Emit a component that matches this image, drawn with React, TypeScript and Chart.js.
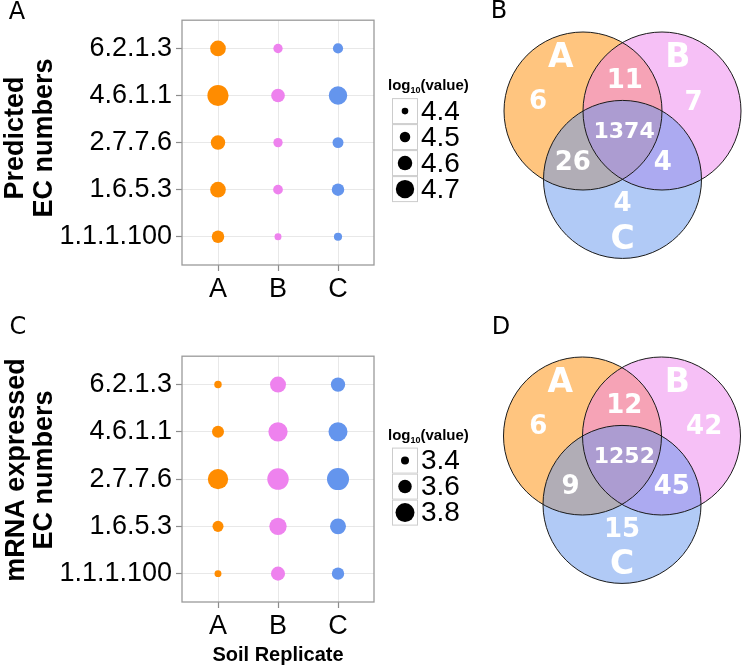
import React, { useEffect, useRef } from 'react';
import { Chart, registerables } from 'chart.js';

Chart.register(...registerables);

// ---------------- data ----------------
const replicates = ['A', 'B', 'C'];
// bottom to top
const ecNumbers = ['1.1.1.100', '1.6.5.3', '2.7.7.6', '4.6.1.1', '6.2.1.3'];

// log10(value), predicted EC numbers (same order as ecNumbers)
const predictedA = [4.55, 4.63, 4.6, 4.77, 4.63];
const predictedB = [4.41, 4.48, 4.47, 4.58, 4.47];
const predictedC = [4.44, 4.55, 4.51, 4.7, 4.49];

// log10(value), mRNA expressed EC numbers
const mrnaA = [3.36, 3.51, 3.85, 3.545, 3.38];
const mrnaB = [3.62, 3.74, 3.89, 3.81, 3.69];
const mrnaC = [3.56, 3.69, 3.91, 3.8, 3.63];

const predictedSizeBreaks = [4.4, 4.5, 4.6, 4.7];
const mrnaSizeBreaks = [3.4, 3.6, 3.8];

const vennSetNames = ['A', 'B', 'C'];
// regions: A only, A∩B, B only, A∩B∩C, A∩C, B∩C, C only
const predictedVennCounts = [6, 11, 7, 1374, 26, 4, 4];
const mrnaVennCounts = [6, 12, 42, 1252, 9, 45, 15];

// ---------------- style / layout ----------------
const SANS = '"Liberation Sans", Arial, Helvetica, sans-serif';
const DEJAVU = '"DejaVu Sans", sans-serif';
const replicateColors = ['#FF8C00', '#EE82EE', '#6495ED'];
const vennFills = ['rgba(255,140,0,0.5)', 'rgba(238,130,238,0.5)', 'rgba(100,149,237,0.5)'];

const LEFT_W = 490;
const RIGHT_W = 252;
const TOP_H = 336;
const BOT_H = 331;
const PLOT_LEFT = 182;
const PLOT_RIGHT = 374;
const PLOT_TOP = 13;

const predictedRadius = (v: number) => 3.3 + 19.7 * (v - 4.4);
const mrnaRadius = (v: number) => 4 + 13.75 * (v - 3.4);

// Venn geometry (units of circle radius; one unit = VENN_UNIT px)
const VENN_UNIT = 79;
const vennCenters = [
  [-0.5, 0],
  [0.5, 0],
  [0, -0.866],
];
const predictedVennLabelPos = [
  [-1.07, 0.11], [0.03, 0.38], [0.9, 0.1], [0.02, -0.27], [-0.63, -0.66], [0.51, -0.66], [0, -1.18],
];
const mrnaVennLabelPos = [
  [-1.06, 0.11], [0.03, 0.38], [1.04, 0.11], [0.03, -0.27], [-0.65, -0.65], [0.63, -0.65], [0, -1.19],
];
const vennSetLabelPos = [
  [-0.78, 0.67], [0.7, 0.67], [0, -1.64],
];

// ---------------- plugins ----------------
type TextItem = {
  text: string; x: number; y: number; font: string; color?: string;
  align?: CanvasTextAlign; baseline?: CanvasTextBaseline; rotate?: boolean;
};

function makeOverlay(items: TextItem[]) {
  return {
    id: 'overlayText',
    afterDraw(chart: any) {
      const ctx = chart.ctx;
      items.forEach((it) => {
        ctx.save();
        ctx.font = it.font;
        ctx.fillStyle = it.color || '#000';
        ctx.textAlign = it.align || 'center';
        ctx.textBaseline = it.baseline || 'middle';
        ctx.translate(it.x, it.y);
        if (it.rotate) ctx.rotate(-Math.PI / 2);
        ctx.fillText(it.text, 0, 0);
        ctx.restore();
      });
    },
  };
}

const panelBorder = {
  id: 'panelBorder',
  afterDatasetsDraw(chart: any) {
    const { ctx, chartArea: a } = chart;
    ctx.save();
    ctx.strokeStyle = '#9A9A9A';
    ctx.lineWidth = 1.3;
    ctx.strokeRect(a.left, a.top, a.right - a.left, a.bottom - a.top);
    ctx.restore();
  },
};

function makeSizeLegend(breaks: number[], rOf: (v: number) => number, keyX: number) {
  return {
    id: 'sizeLegend',
    afterDraw(chart: any) {
      const ctx = chart.ctx;
      const a = chart.chartArea;
      const cy = (a.top + a.bottom) / 2;
      const rowH = 26;
      const blockH = 17 + breaks.length * rowH;
      const top = cy - blockH / 2;
      ctx.save();
      ctx.fillStyle = '#000';
      ctx.textAlign = 'left';
      ctx.textBaseline = 'alphabetic';
      let tx = keyX - 4;
      const by = top + 8;
      ctx.font = `bold 15px ${SANS}`;
      ctx.fillText('log', tx, by);
      tx += ctx.measureText('log').width;
      ctx.font = `bold 9px ${SANS}`;
      ctx.fillText('10', tx, by + 3);
      tx += ctx.measureText('10').width;
      ctx.font = `bold 15px ${SANS}`;
      ctx.fillText('(value)', tx, by);
      breaks.forEach((b, i) => {
        const y0 = top + 16 + i * rowH;
        ctx.fillStyle = '#FFFFFF';
        ctx.fillRect(keyX, y0, 26, rowH);
        ctx.strokeStyle = '#CCCCCC';
        ctx.lineWidth = 1;
        ctx.strokeRect(keyX + 0.5, y0 + 0.5, 25, rowH - 1);
        ctx.beginPath();
        ctx.arc(keyX + 13, y0 + 13, rOf(b), 0, Math.PI * 2);
        ctx.fillStyle = '#000';
        ctx.fill();
        ctx.font = `28px ${SANS}`;
        ctx.textBaseline = 'middle';
        ctx.fillText(b.toFixed(1), keyX + 29, y0 + 14);
        ctx.textBaseline = 'alphabetic';
      });
      ctx.restore();
    },
  };
}

function makeVennLabels(counts: number[], pos: number[][]) {
  return {
    id: 'vennLabels',
    afterDatasetsDraw(chart: any) {
      const { ctx, scales } = chart;
      const sx = scales.x;
      const sy = scales.y;
      ctx.save();
      ctx.fillStyle = '#FFFFFF';
      ctx.textAlign = 'center';
      ctx.textBaseline = 'middle';
      counts.forEach((c, i) => {
        const s = String(c);
        ctx.font = `bold ${s.length >= 4 ? 22 : 26}px ${DEJAVU}`;
        ctx.fillText(s, sx.getPixelForValue(pos[i][0]), sy.getPixelForValue(pos[i][1]));
      });
      vennSetNames.forEach((n, i) => {
        ctx.font = `bold 33px ${DEJAVU}`;
        ctx.fillText(n, sx.getPixelForValue(vennSetLabelPos[i][0]), sy.getPixelForValue(vennSetLabelPos[i][1]));
      });
      ctx.restore();
    },
  };
}

// ---------------- configs ----------------
const tickFont = { family: SANS, size: 27 };

function bubbleConfig(opts: {
  series: number[][]; rOf: (v: number) => number; height: number; plotBottom: number;
  xTitle?: string; extraPlugins: any[];
}) {
  return {
    type: 'bubble',
    data: {
      datasets: opts.series.map((vals, si) => ({
        label: replicates[si],
        data: vals.map((v, i) => ({ x: si + 1, y: i + 1, r: opts.rOf(v) })),
        backgroundColor: replicateColors[si],
        borderWidth: 0,
        clip: false,
      })),
    },
    options: {
      animation: false,
      responsive: false,
      devicePixelRatio: 1,
      events: [],
      layout: {
        padding: { left: 0, top: PLOT_TOP, right: LEFT_W - PLOT_RIGHT, bottom: 0 },
        autoPadding: false,
      },
      plugins: { legend: { display: false }, tooltip: { enabled: false } },
      scales: {
        x: {
          type: 'linear',
          min: 0.4,
          max: replicates.length + 0.6,
          afterBuildTicks: (s: any) => {
            s.ticks = replicates.map((_, i) => ({ value: i + 1 }));
          },
          afterFit: (s: any) => {
            s.height = opts.height - opts.plotBottom;
          },
          ticks: {
            callback: (v: any) => replicates[Math.round(v) - 1],
            font: tickFont,
            color: '#000',
            padding: 2.5,
            autoSkip: false,
            maxRotation: 0,
            minRotation: 0,
          },
          grid: { color: '#E8E8E8', lineWidth: 1, tickLength: 6, tickColor: '#8C8C8C', tickWidth: 1.2 },
          border: { display: false },
          title: opts.xTitle
            ? {
                display: true,
                text: opts.xTitle,
                font: { family: SANS, size: 20, weight: 'bold' },
                color: '#000',
                padding: { top: 0, bottom: 0 },
              }
            : { display: false },
        },
        y: {
          type: 'linear',
          min: 0.4,
          max: ecNumbers.length + 0.6,
          afterBuildTicks: (s: any) => {
            s.ticks = ecNumbers.map((_, i) => ({ value: i + 1 }));
          },
          afterFit: (s: any) => {
            s.width = PLOT_LEFT;
          },
          ticks: {
            callback: (v: any) => ecNumbers[Math.round(v) - 1],
            font: tickFont,
            color: '#000',
            padding: 4,
            autoSkip: false,
          },
          grid: { color: '#E8E8E8', lineWidth: 1, tickLength: 6, tickColor: '#8C8C8C', tickWidth: 1.2 },
          border: { display: false },
        },
      },
    },
    plugins: [panelBorder, ...opts.extraPlugins],
  };
}

function vennConfig(opts: {
  counts: number[]; labelPos: number[][]; originX: number; originY: number; width: number; height: number;
  extraPlugins: any[];
}) {
  const { originX, originY, width, height } = opts;
  const fills = vennSetNames.map((n, i) => ({
    label: n,
    data: [{ x: vennCenters[i][0], y: vennCenters[i][1], r: VENN_UNIT }],
    backgroundColor: vennFills[i],
    borderWidth: 0,
    order: 10 - i,
    clip: false,
  }));
  const outlines = vennSetNames.map((n, i) => ({
    label: n + ' outline',
    data: [{ x: vennCenters[i][0], y: vennCenters[i][1], r: VENN_UNIT }],
    backgroundColor: 'rgba(0,0,0,0)',
    borderColor: '#1A1A1A',
    borderWidth: 1,
    order: 3 - i,
    clip: false,
  }));
  return {
    type: 'bubble',
    data: { datasets: [...fills, ...outlines] },
    options: {
      animation: false,
      responsive: false,
      devicePixelRatio: 1,
      events: [],
      layout: { padding: 0, autoPadding: false },
      plugins: { legend: { display: false }, tooltip: { enabled: false } },
      scales: {
        x: { type: 'linear', display: false, min: -originX / VENN_UNIT, max: (width - originX) / VENN_UNIT },
        y: { type: 'linear', display: false, min: -(height - originY) / VENN_UNIT, max: originY / VENN_UNIT },
      },
    },
    plugins: [makeVennLabels(opts.counts, opts.labelPos), ...opts.extraPlugins],
  };
}

const titleFont = `bold 27px ${SANS}`;
const letterFont = `24px ${DEJAVU}`;

function ChartCanvas({ make, left, top, width, height }: any) {
  const ref = useRef<HTMLCanvasElement | null>(null);
  useEffect(() => {
    if (!ref.current) return;
    const chart = new Chart(ref.current, make() as any);
    return () => chart.destroy();
  }, []);
  return (
    <canvas
      ref={ref}
      width={width}
      height={height}
      style={{ position: 'absolute', left, top, width, height, display: 'block' }}
    />
  );
}

export default function App() {
  return (
    <div style={{ position: 'fixed', left: 0, top: 0, width: 742, height: 667, background: '#fff', overflow: 'hidden' }}>
      <ChartCanvas
        left={0}
        top={0}
        width={LEFT_W}
        height={TOP_H}
        make={() =>
          bubbleConfig({
            series: [predictedA, predictedB, predictedC],
            rOf: predictedRadius,
            height: TOP_H,
            plotBottom: 265,
            extraPlugins: [
              makeSizeLegend(predictedSizeBreaks, predictedRadius, 392),
              makeOverlay([
                { text: 'Predicted', x: 23, y: 138, font: titleFont, baseline: 'alphabetic', rotate: true },
                { text: 'EC numbers', x: 52, y: 138, font: titleFont, baseline: 'alphabetic', rotate: true },
                { text: 'A', x: 17, y: 13, font: letterFont },
                { text: 'C', x: 18, y: 328, font: letterFont },
              ]),
            ],
          })
        }
      />
      <ChartCanvas
        left={0}
        top={TOP_H}
        width={LEFT_W}
        height={BOT_H}
        make={() =>
          bubbleConfig({
            series: [mrnaA, mrnaB, mrnaC],
            rOf: mrnaRadius,
            height: BOT_H,
            plotBottom: 266,
            xTitle: 'Soil Replicate',
            extraPlugins: [
              makeSizeLegend(mrnaSizeBreaks, mrnaRadius, 392),
              makeOverlay([
                { text: 'mRNA expressed', x: 24, y: 134, font: titleFont, baseline: 'alphabetic', rotate: true },
                { text: 'EC numbers', x: 52, y: 134, font: titleFont, baseline: 'alphabetic', rotate: true },
              ]),
            ],
          })
        }
      />
      <ChartCanvas
        left={LEFT_W}
        top={0}
        width={RIGHT_W}
        height={TOP_H}
        make={() =>
          vennConfig({
            counts: predictedVennCounts,
            labelPos: predictedVennLabelPos,
            originX: 132.5,
            originY: 111,
            width: RIGHT_W,
            height: TOP_H,
            extraPlugins: [
              makeOverlay([
                { text: 'B', x: 9, y: 12, font: letterFont },
                { text: 'D', x: 11, y: 328, font: letterFont },
              ]),
            ],
          })
        }
      />
      <ChartCanvas
        left={LEFT_W}
        top={TOP_H}
        width={RIGHT_W}
        height={BOT_H}
        make={() =>
          vennConfig({
            counts: mrnaVennCounts,
            labelPos: mrnaVennLabelPos,
            originX: 132,
            originY: 100,
            width: RIGHT_W,
            height: BOT_H,
            extraPlugins: [],
          })
        }
      />
    </div>
  );
}
